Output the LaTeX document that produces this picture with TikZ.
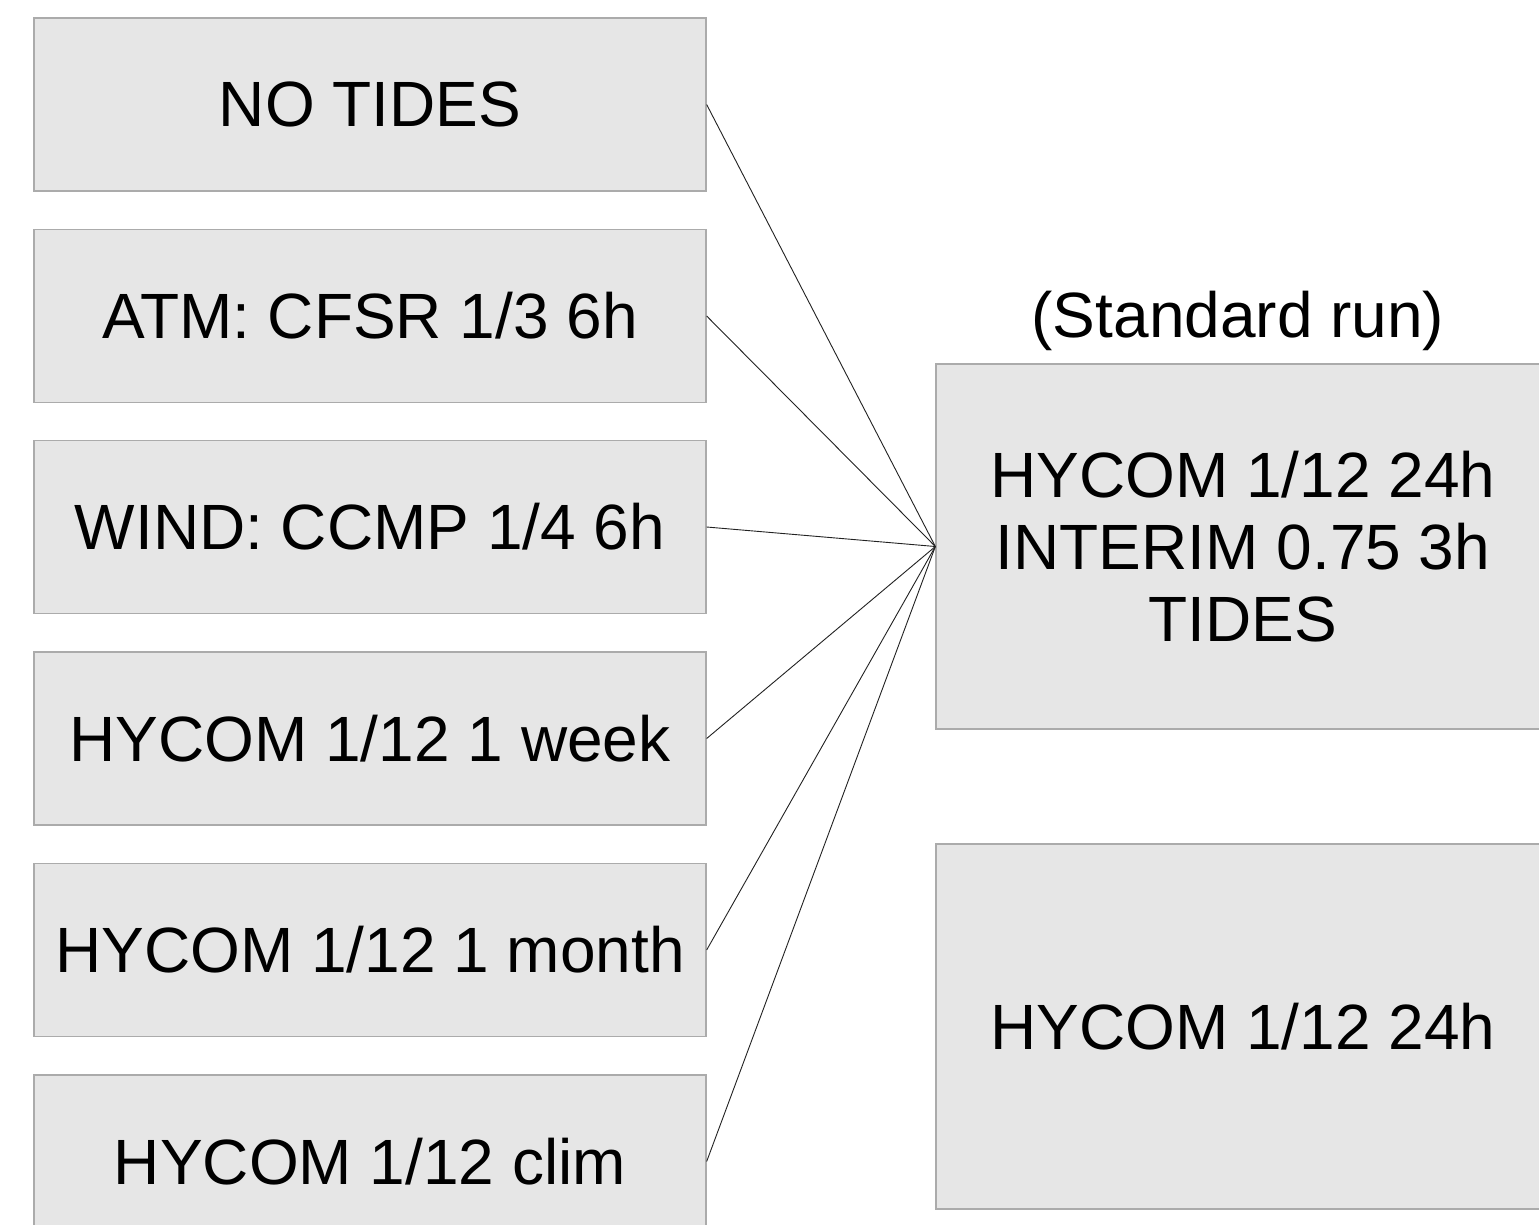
\documentclass[tikz,border=0pt]{standalone}
\usepackage{fontspec}
\setmainfont{Liberation Sans}
\definecolor{boxfill}{HTML}{E6E6E6}
\definecolor{boxline}{HTML}{ABABAB}
\definecolor{wire}{HTML}{222222}
\begin{document}
\begin{tikzpicture}[x=1pt,y=-1pt,
  box/.style={draw=boxline, fill=boxfill, line width=1.3pt, inner sep=0pt,
    font=\fontsize{64}{72}\selectfont, align=center},
  leftbox/.style={box, minimum width=672pt, minimum height=173pt},
  rightbox/.style={box, minimum width=614pt, minimum height=365pt},
  wireline/.style={draw=wire, line width=0.9pt},
  caption/.style={font=\fontsize{64}{72}\selectfont, inner sep=0pt}]
\useasboundingbox (0,0) rectangle (1539,1224);
\clip (0,0) rectangle (1539,1224);
\fill[white] (0,0) rectangle (1539,1224);
\node[leftbox] (l1) at (370,104.5) {NO TIDES};
\node[leftbox] (l2) at (370,316) {ATM: CFSR 1/3 6h};
\node[leftbox] (l3) at (370,527) {WIND: CCMP 1/4 6h};
\node[leftbox] (l4) at (370,738.5) {HYCOM 1/12 1 week};
\node[leftbox] (l5) at (370,950) {HYCOM 1/12 1 month};
\node[leftbox] (l6) at (370,1161.5) {HYCOM 1/12 clim};
\node[rightbox] (r1) at (1243,546.5) {HYCOM 1/12 24h\\INTERIM 0.75 3h\\TIDES};
\node[rightbox] (r2) at (1243,1026.5) {HYCOM 1/12 24h};
\node[caption] (cap) at (1238,321) {(Standard run)};
\foreach \n in {l1,l2,l3,l4,l5,l6}
  \draw[wireline] (\n.east) -- (r1.west);
\end{tikzpicture}
\end{document}
